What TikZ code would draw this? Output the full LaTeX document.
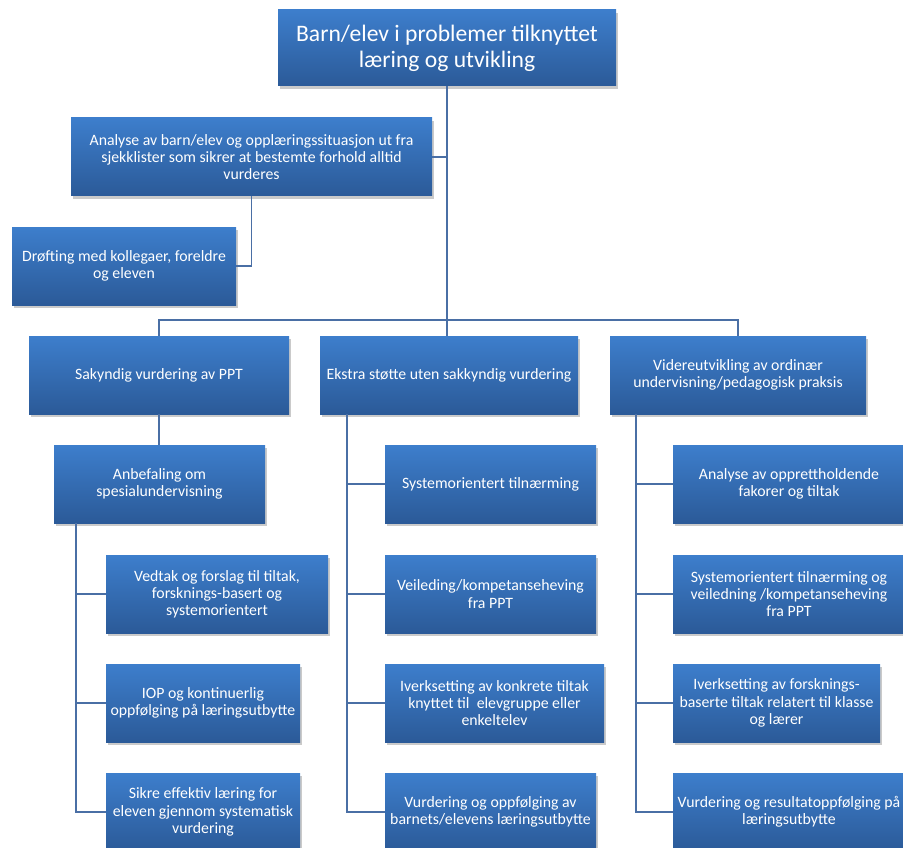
\documentclass[tikz,border=0pt]{standalone}
\usepackage{fontspec}
\setmainfont{Carlito}
\usetikzlibrary{shadows}
\definecolor{boxtop}{RGB}{61,126,204}
\definecolor{boxmid}{RGB}{54,111,185}
\definecolor{boxbot}{RGB}{43,90,152}
\definecolor{linje}{RGB}{74,111,165}
\begin{document}
\begin{tikzpicture}[x=1pt,y=-1pt,
	boks/.style={rectangle, top color=boxtop, middle color=boxmid, bottom color=boxbot,
		text=white, align=center, inner sep=0pt, minimum height=78pt,
		drop shadow={shadow xshift=2pt, shadow yshift=-3pt, opacity=0.35, fill=black!60},
		font=\fontsize{15.8}{17.2}\selectfont},
	kobling/.style={draw=linje, line width=1.4pt}]
\useasboundingbox (0,0) rectangle (903,848);

% toppnivaa
\node[boks, minimum width=338pt, minimum height=76pt, font=\fontsize{23.6}{26}\selectfont] (barn) at (447,48)
	{Barn/elev i problemer tilknyttet\\l\ae ring og utvikling};
\node[boks, minimum width=361pt] (analyse) at (251.5,157)
	{Analyse av barn/elev og oppl\ae ringssituasjon ut fra\\sjekklister som sikrer at bestemte forhold alltid\\vurderes};
\node[boks, minimum width=224pt] (drofting) at (124,266)
	{Dr\o fting med kollegaer, foreldre\\og eleven};

% tre hovedveier
\node[boks, minimum width=260pt] (sakkyndig) at (159,375)
	{Sakyndig vurdering av PPT};
\node[boks, minimum width=258pt] (ekstra) at (449,375)
	{Ekstra st\o tte uten sakkyndig vurdering};
\node[boks, minimum width=256pt] (videre) at (738,375)
	{Videreutvikling av ordin\ae r\\undervisning/pedagogisk praksis};

% venstre gren
\node[boks, minimum width=211pt] (anbefaling) at (159.5,484)
	{Anbefaling om\\spesialundervisning};
\node[boks, minimum width=222pt] (vedtak) at (217,594)
	{Vedtak og forslag til tiltak,\\forsknings-basert og\\systemorientert};
\node[boks, minimum width=194pt] (iop) at (203,703)
	{IOP og kontinuerlig\\oppf\o lging p\aa{} l\ae ringsutbytte};
\node[boks, minimum width=194pt] (sikre) at (203,812)
	{Sikre effektiv l\ae ring for\\eleven gjennom systematisk\\vurdering};

% midtre gren
\node[boks, minimum width=211pt] (systemm) at (490.5,484)
	{Systemorientert tiln\ae rming};
\node[boks, minimum width=211pt] (veileding) at (490.5,594)
	{Veileding/kompetanseheving\\fra PPT};
\node[boks, minimum width=219pt] (iverkm) at (494.5,703)
	{Iverksetting av konkrete tiltak\\knyttet til\ \ elevgruppe eller\\enkeltelev};
\node[boks, minimum width=211pt] (vurderingm) at (490.5,812)
	{Vurdering og oppf\o lging av\\barnets/elevens l\ae ringsutbytte};

% hoyre gren
\node[boks, minimum width=232pt] (opprett) at (789,484)
	{Analyse av opprettholdende\\fakorer og tiltak};
\node[boks, minimum width=232pt] (systemh) at (789,594)
	{Systemorientert tiln\ae rming og\\veiledning /kompetanseheving\\fra PPT};
\node[boks, minimum width=207pt] (iverkh) at (776.5,703)
	{Iverksetting av forsknings-\\baserte tiltak relatert til klasse\\og l\ae rer};
\node[boks, minimum width=232pt] (vurderingh) at (789,812)
	{Vurdering og resultatoppf\o lging p\aa\\l\ae ringsutbytte};

\coordinate (fordeling) at (barn.south |- 0,320);
\coordinate (venstre) at ([xshift=22pt]anbefaling.south west);
\coordinate (midten) at ([xshift=27pt]ekstra.south west);
\coordinate (hoyre) at ([xshift=26pt]videre.south west);

\path[kobling]
(barn.south) edge (fordeling)
(analyse.east) edge (analyse.east -| fordeling)
(analyse.south) edge[to path={|- (\tikztotarget)}] (drofting.east)
(fordeling) edge[to path={-| (\tikztotarget)}] (sakkyndig.north)
(fordeling) edge[to path={-| (\tikztotarget)}] (videre.north)
(fordeling) edge (fordeling |- ekstra.north)
(sakkyndig.south) edge (sakkyndig.south |- anbefaling.north)
(venstre) edge[to path={|- (\tikztotarget)}] (vedtak.west)
(venstre) edge[to path={|- (\tikztotarget)}] (iop.west)
(venstre) edge[to path={|- (\tikztotarget)}] (sikre.west)
(midten) edge[to path={|- (\tikztotarget)}] (systemm.west)
(midten) edge[to path={|- (\tikztotarget)}] (veileding.west)
(midten) edge[to path={|- (\tikztotarget)}] (iverkm.west)
(midten) edge[to path={|- (\tikztotarget)}] (vurderingm.west)
(hoyre) edge[to path={|- (\tikztotarget)}] (opprett.west)
(hoyre) edge[to path={|- (\tikztotarget)}] (systemh.west)
(hoyre) edge[to path={|- (\tikztotarget)}] (iverkh.west)
(hoyre) edge[to path={|- (\tikztotarget)}] (vurderingh.west);
\end{tikzpicture}
\end{document}
